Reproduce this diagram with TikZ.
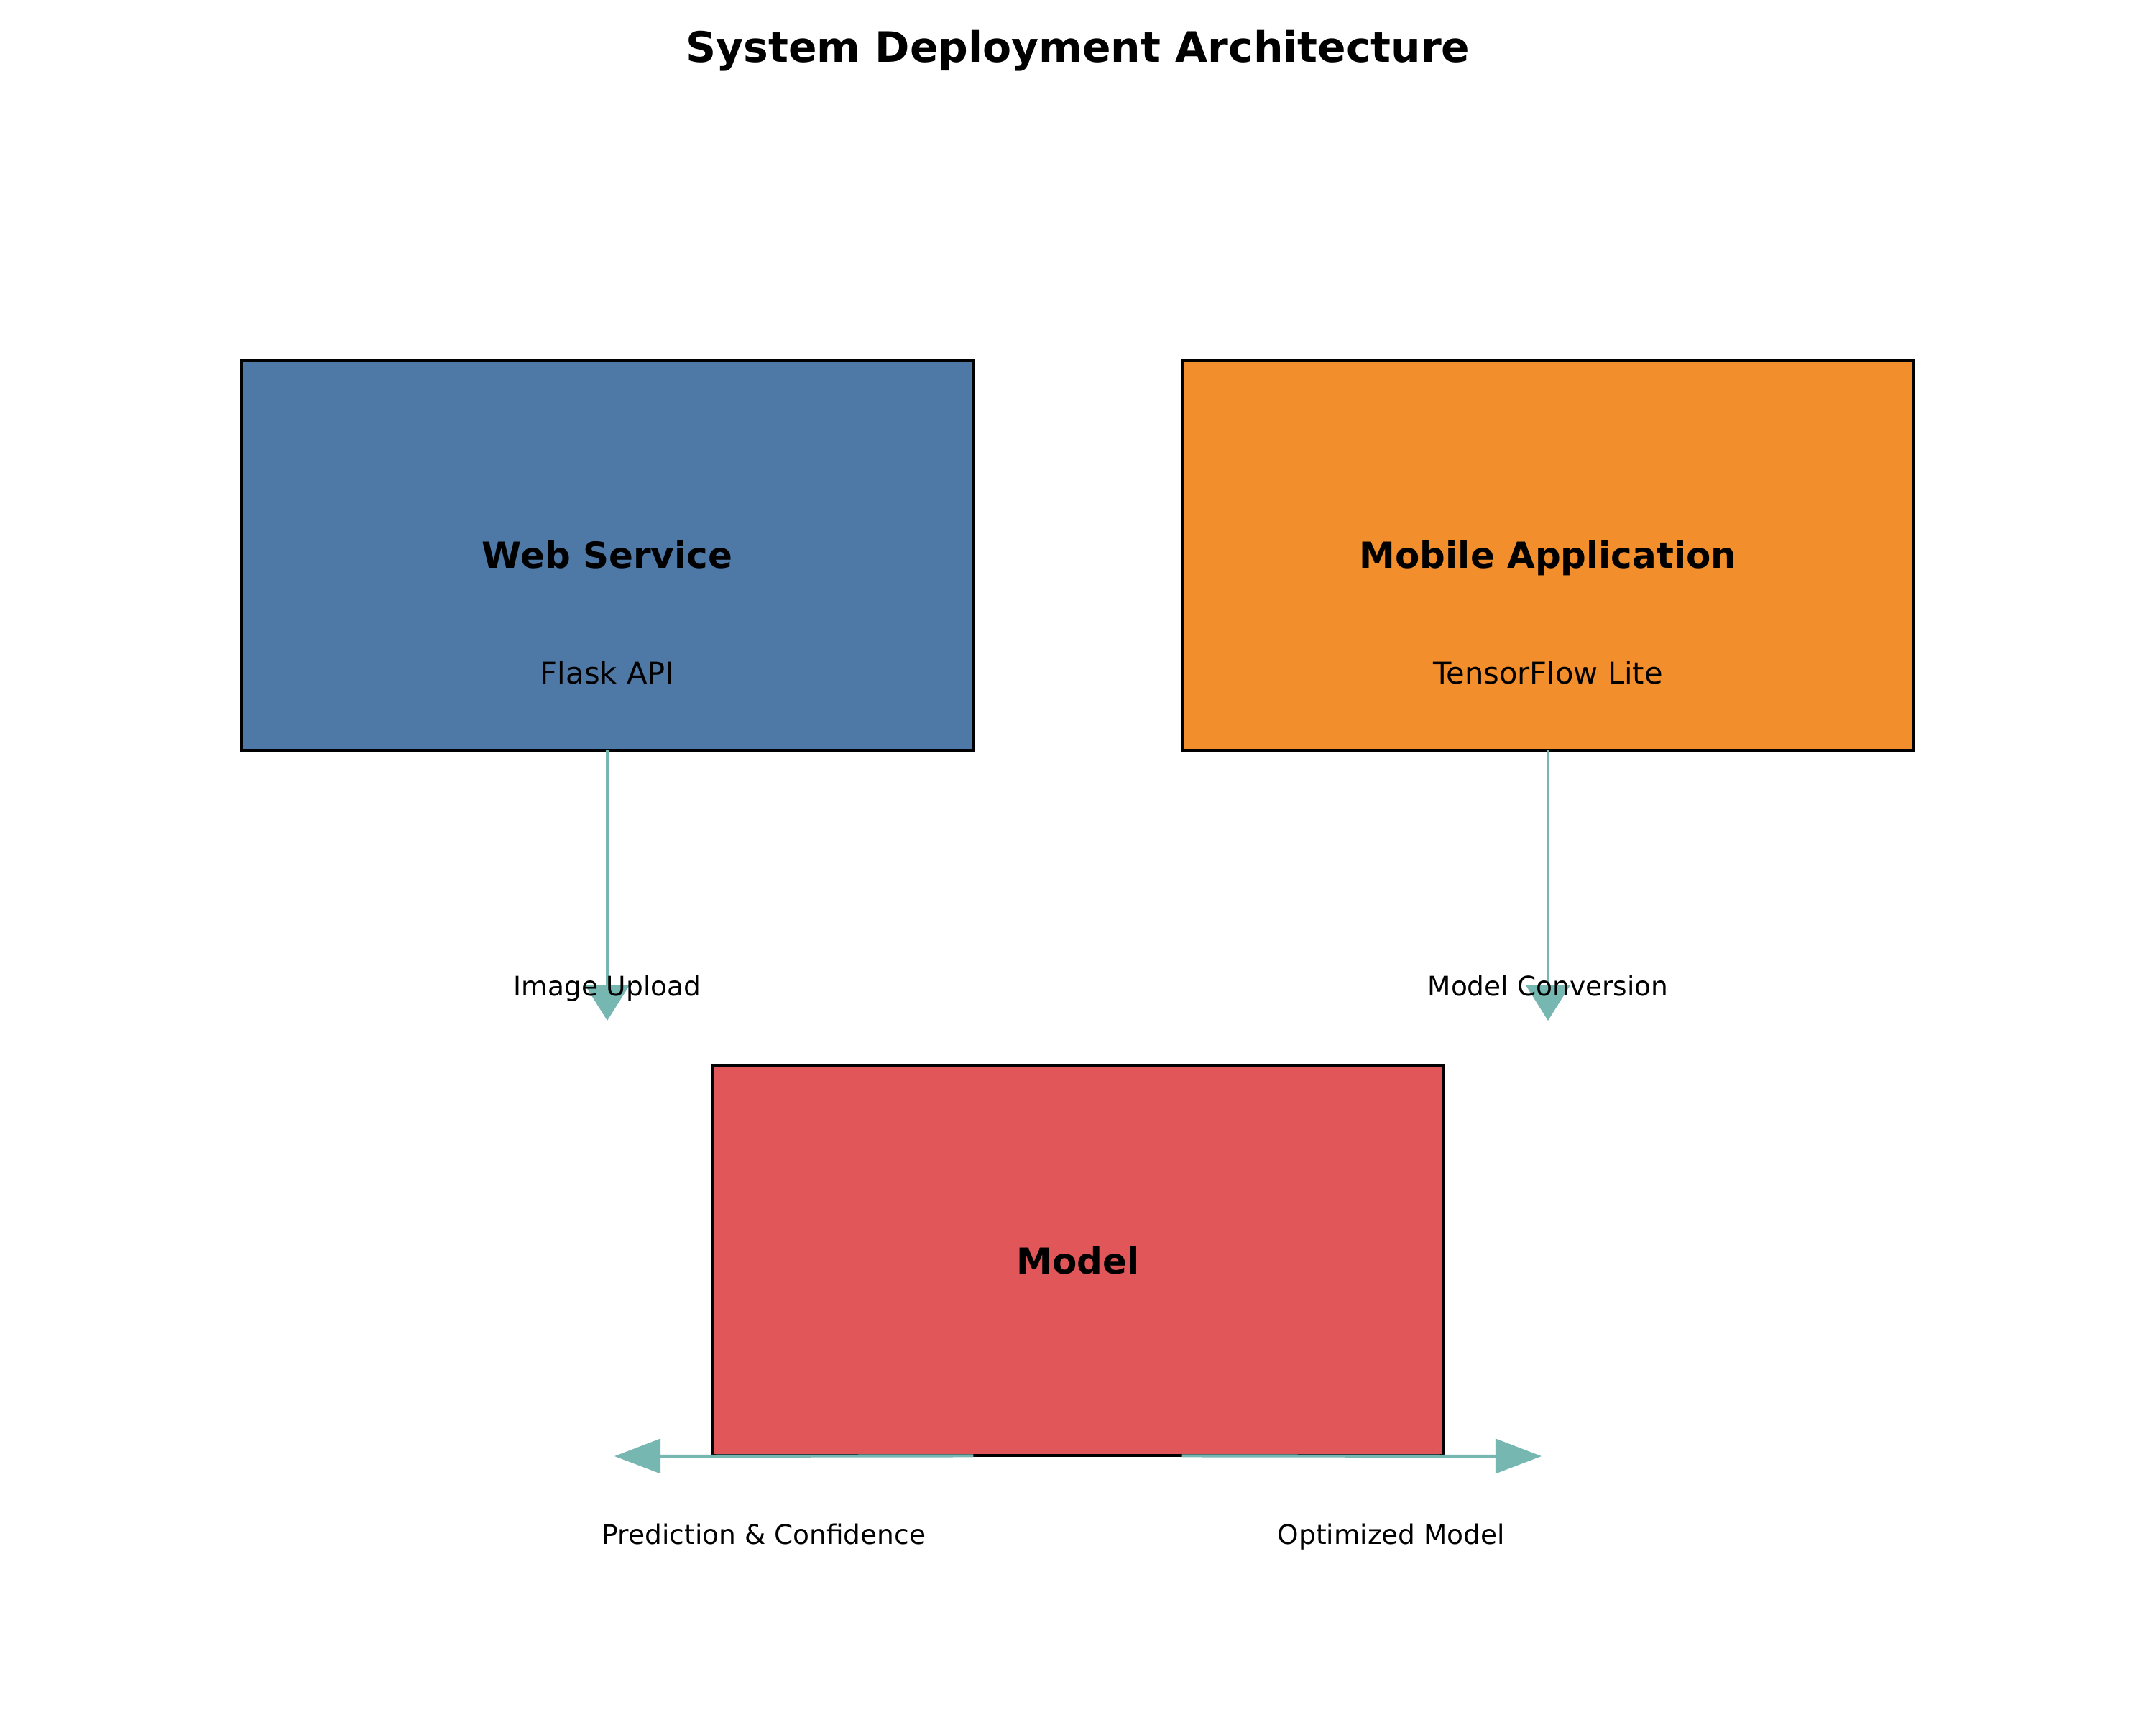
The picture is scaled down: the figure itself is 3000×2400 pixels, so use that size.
\documentclass[tikz,border=0pt]{standalone}
\usepackage{fontspec}
\setmainfont{DejaVu Sans}
\usepackage{xcolor}
\usetikzlibrary{arrows.meta}
\definecolor{webBlue}{HTML}{4E79A7}
\definecolor{mobileOrange}{HTML}{F28E2B}
\definecolor{modelRed}{HTML}{E15759}
\definecolor{flowTeal}{HTML}{76B7B2}

\begin{document}
\begin{tikzpicture}[x=0.24pt, y=-0.24pt,
  every node/.style={text=black, text height=0.76em, text depth=0pt},
  box/.style={draw=black, line width=1pt, minimum width=244.5pt,
    minimum height=130.5pt, outer sep=0pt, inner sep=0pt},
  flowline/.style={draw=flowTeal, line width=1pt},
  downtip/.style={-{Triangle[width=14.6pt, length=11.8pt]}},
  sidetip/.style={-{Triangle[width=11.5pt, length=15.4pt]}},
  boxtitle/.style={font=\fontsize{12}{14}\selectfont\bfseries},
  boxsub/.style={font=\fontsize{10}{12}\selectfont},
  flowlabel/.style={font=\fontsize{9}{11}\selectfont}]
\useasboundingbox (0,0) rectangle (3000, 2400);

% Title
\node[font=\fontsize{14}{17}\selectfont\bfseries] (title) at (1500, 71)
    {System Deployment Architecture};

% Boxes
\node[box, fill=webBlue] (web) at (845, 772.5) {};
\node[box, fill=mobileOrange] (mobile) at (2154, 772.5) {};
\node[box, fill=modelRed] (model) at (1500, 1753.5) {};

\node[boxtitle] (webName) at (845, 775) {Web Service};
\node[boxsub] (webSub) at (845, 936) {Flask API};
\node[boxtitle] (mobileName) at (2154, 775) {Mobile Application};
\node[boxsub] (mobileSub) at (2154, 936) {TensorFlow Lite};
\node[boxtitle] (modelName) at (1500, 1757) {Model};

% Connectors
\coordinate (uploadTip) at (845, 1420);
\coordinate (convertTip) at (2154, 1420);
\coordinate (predTip) at (855, 2026);
\coordinate (optTip) at (2145, 2026);

\draw[flowline, downtip, flowTeal] (web.south) -- (uploadTip);
\draw[flowline, downtip, flowTeal] (mobile.south) -- (convertTip);
\draw[flowline, sidetip, flowTeal] (model.south -| web.east) -- (predTip);
\draw[flowline, sidetip, flowTeal] (model.south -| mobile.west) -- (optTip);

% Connector labels
\node[flowlabel] (uploadLabel) at (845, 1370) {Image Upload};
\node[flowlabel] (convertLabel) at (2154, 1370) {Model Conversion};
\node[flowlabel] (predLabel) at (1063, 2133) {Prediction \& Confidence};
\node[flowlabel] (optLabel) at (1936, 2133) {Optimized Model};

\end{tikzpicture}
\end{document}
